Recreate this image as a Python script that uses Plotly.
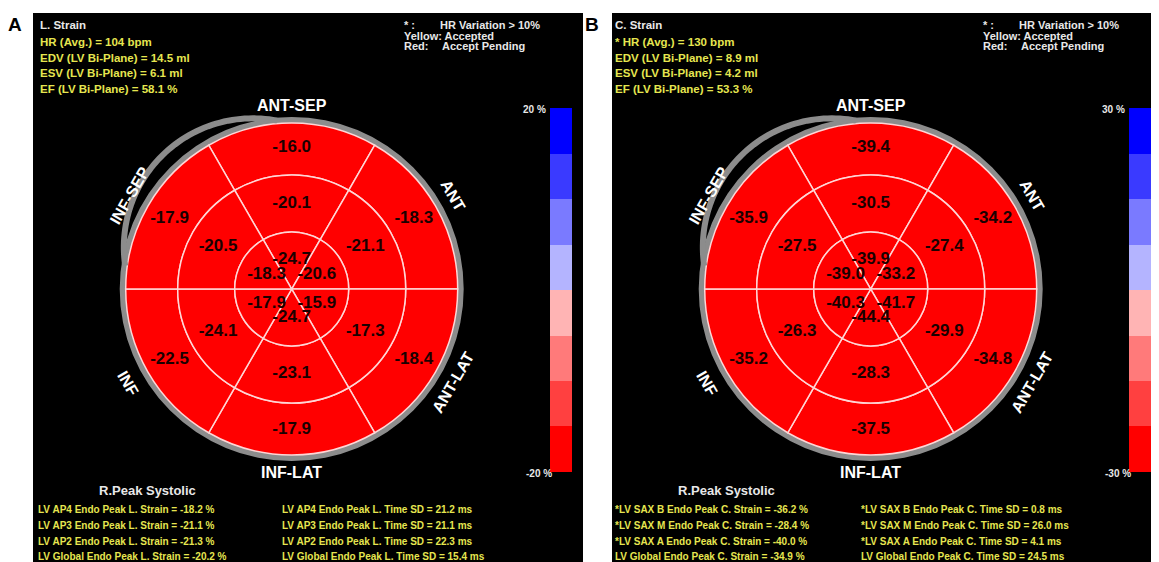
import numpy as np
import plotly.graph_objects as go

# page size and the default 8px body margin of the written html page
PAGE_W, PAGE_H = 1159, 562
OFF = 8
W, H = PAGE_W - OFF, PAGE_H - OFF

# ---------------- data ----------------
segments = ["ANT-SEP", "ANT", "ANT-LAT", "INF-LAT", "INF", "INF-SEP"]
seg_theta = [90, 30, 330, 270, 210, 150]

a_basal = [-16.0, -18.3, -18.4, -17.9, -22.5, -17.9]
a_mid = [-20.1, -21.1, -17.3, -23.1, -24.1, -20.5]
a_apical = [-24.7, -20.6, -15.9, -24.7, -17.9, -18.3]

b_basal = [-39.4, -34.2, -34.8, -37.5, -35.2, -35.9]
b_mid = [-30.5, -27.4, -29.9, -28.3, -26.3, -27.5]
b_apical = [-39.9, -33.2, -41.7, -44.4, -40.3, -39.0]

a_scale = [-20, 20]
b_scale = [-30, 30]

a_header = ["L. Strain", "HR (Avg.) = 104 bpm", "EDV (LV Bi-Plane) = 14.5 ml",
            "ESV (LV Bi-Plane) = 6.1 ml", "EF (LV Bi-Plane) = 58.1 %"]
b_header = ["C. Strain", "* HR (Avg.) = 130 bpm", "EDV (LV Bi-Plane) = 8.9 ml",
            "ESV (LV Bi-Plane) = 4.2 ml", "EF (LV Bi-Plane) = 53.3 %"]

a_left = ["LV AP4 Endo Peak L. Strain = -18.2 %", "LV AP3 Endo Peak L. Strain = -21.1 %",
          "LV AP2 Endo Peak L. Strain = -21.3 %", "LV Global Endo Peak L. Strain = -20.2 %"]
a_right = ["LV AP4 Endo Peak L. Time SD = 21.2 ms", "LV AP3 Endo Peak L. Time SD = 21.1 ms",
           "LV AP2 Endo Peak L. Time SD = 22.3 ms", "LV Global Endo Peak L. Time SD = 15.4 ms"]
b_left = ["*LV SAX B Endo Peak C. Strain = -36.2 %", "*LV SAX M Endo Peak C. Strain = -28.4 %",
          "*LV SAX A Endo Peak C. Strain = -40.0 %", "LV Global Endo Peak C. Strain = -34.9 %"]
b_right = ["*LV SAX B Endo Peak C. Time SD = 0.8 ms", "*LV SAX M Endo Peak C. Time SD = 26.0 ms",
           "*LV SAX A Endo Peak C. Time SD = 4.1 ms", "LV Global Endo Peak C. Time SD = 24.5 ms"]

bin_colors = ["#ff0000", "#ff4040", "#ff7a7a", "#ffb4b4",
              "#b4b4ff", "#7a7aff", "#3a3aff", "#0000ff"]

# ---------------- style / geometry ----------------
YEL = "#e6e650"
WHT = "#e8e8e8"
GRAY = "#8c8c8c"
FONT = "Liberation Sans"
R_IN, R_MID, R_OUT, R_RING = 57, 114, 166, 172
R_MAX = 195

colorscale = []
n = len(bin_colors)
for i, c in enumerate(bin_colors):
    colorscale.append([i / n, c])
    colorscale.append([(i + 1) / n, c])


def px(x):
    return (x - OFF) / W


def py(y):
    return 1 - (y - OFF) / H


fig = go.Figure()
annotations = []
shapes = []


def ann(x, y, text, size=11, color=YEL, xanchor="left", angle=0, bold=True):
    annotations.append(dict(
        x=px(x), y=py(y), xref="paper", yref="paper", text=text, showarrow=False,
        xanchor=xanchor, yanchor="middle", textangle=angle,
        font=dict(family=FONT, size=size, color=color, weight="bold" if bold else "normal")))


panels = [
    dict(name="polar", letter="A", dx=0, basal=a_basal, mid=a_mid, apical=a_apical,
         scale=a_scale, header=a_header, left=a_left, right=a_right),
    dict(name="polar2", letter="B", dx=579, basal=b_basal, mid=b_mid, apical=b_apical,
         scale=b_scale, header=b_header, left=b_left, right=b_right),
]

for k, p in enumerate(panels):
    dx = p["dx"]
    cx, cy = 291.7 + dx, 289
    sub = p["name"]

    # black panel
    shapes.append(dict(type="rect", xref="paper", yref="paper", x0=px(33 + dx),
                       x1=px(583) if k == 0 else 1.0,
                       y0=0, y1=py(13), fillcolor="black", line=dict(width=0), layer="below"))
    ann(15 + dx - (2 if k else 0), 25, p["letter"], size=19, color="black", xanchor="center")

    # gray outer ring
    fig.add_trace(go.Barpolar(subplot=sub, theta=[0], width=[360], base=[R_OUT], r=[R_RING - R_OUT],
                              marker=dict(color=GRAY, line=dict(width=0)), hoverinfo="skip", showlegend=False))
    # crescent outline
    th = np.linspace(95, 172, 60)
    d, Rp, phi = 57, 129, 133
    a = np.radians(th - phi)
    rr = d * np.cos(a) + np.sqrt(Rp ** 2 - (d * np.sin(a)) ** 2)
    fig.add_trace(go.Scatterpolar(subplot=sub, theta=th, r=rr, mode="lines",
                                  line=dict(color=GRAY, width=6), hoverinfo="skip", showlegend=False))

    # segments
    vals = p["basal"] + p["mid"] + p["apical"]
    thetas = seg_theta * 3
    bases = [R_MID] * 6 + [R_IN] * 6 + [0] * 6
    lens = [R_OUT - R_MID] * 6 + [R_MID - R_IN] * 6 + [R_IN] * 6
    fig.add_trace(go.Barpolar(
        subplot=sub, theta=thetas, width=[60] * 18, base=bases, r=lens,
        marker=dict(color=vals, colorscale=colorscale, cmin=p["scale"][0], cmax=p["scale"][1],
                    line=dict(color="#ffd6d6", width=1.5), showscale=True,
                    colorbar=dict(x=px(550 + dx), xanchor="left", xpad=0, y=py(290), yanchor="middle",
                                  ypad=0, len=364, lenmode="pixels", thickness=22, thicknessmode="pixels",
                                  outlinewidth=0, borderwidth=0, showticklabels=False, ticks="")),
        hoverinfo="skip", showlegend=False))

    # segment values
    fig.add_trace(go.Scatterpolar(
        subplot=sub, theta=thetas, r=[141] * 6 + [85] * 6 + [29] * 6, mode="text",
        text=[f"{v:.1f}" for v in vals],
        textfont=dict(family=FONT, size=17, color="#1a0000", weight="bold"),
        hoverinfo="skip", showlegend=False))

    # polar layout
    fig.update_layout(**{sub: dict(
        domain=dict(x=[px(cx - R_MAX), px(cx + R_MAX)], y=[py(cy + R_MAX), py(cy - R_MAX)]),
        bgcolor="rgba(0,0,0,0)",
        radialaxis=dict(range=[0, R_MAX], visible=False),
        angularaxis=dict(visible=False, rotation=0, direction="counterclockwise"),
        bargap=0)})

    # wall labels
    lab_r = [184, 186, 186, 183, 189, 187]
    lab_ang = [0, 60, -60, 0, 60, -60]
    for name, t, r, ang in zip(segments, seg_theta, lab_r, lab_ang):
        x = cx + r * np.cos(np.radians(t))
        y = cy - r * np.sin(np.radians(t))
        ann(x, y, name, size=16, color="white", xanchor="center", angle=ang)

    # colour bar end labels
    ann(548 + dx, 110, f"{p['scale'][1]} %", size=10, color=WHT, xanchor="right")
    ann(554 + dx, 473, f"{p['scale'][0]} %", size=10, color=WHT, xanchor="right")

    # header
    hx = 38 + dx - (4 if k else 0)
    for i, (txt, yy) in enumerate(zip(p["header"], [25, 42, 58, 73, 89])):
        ann(hx, yy, txt, size=11.5, color=WHT if i == 0 else YEL)

    # legend text (top right)
    ann(402 + dx, 25, "* :", size=11, color=WHT)
    ann(438 + dx, 25, "HR Variation > 10%", size=11, color=WHT)
    ann(402 + dx, 36, "Yellow: Accepted", size=11, color=WHT)
    ann(402 + dx, 46, "Red:", size=11, color=WHT)
    ann(440 + dx, 46, "Accept Pending", size=11, color=WHT)

    # bottom text
    ann(147 + dx, 490, "R.Peak Systolic", size=13, color=WHT, xanchor="center")
    lx = 36 + dx - (2 if k else 0)
    rx = 280 + dx
    for txt_l, txt_r, yy in zip(p["left"], p["right"], [509, 525, 541, 556]):
        ann(lx, yy, txt_l, size=10)
        ann(rx, yy, txt_r, size=10)

fig.update_layout(width=W, height=H, margin=dict(l=0, r=0, t=0, b=0),
                  paper_bgcolor="white", plot_bgcolor="white",
                  annotations=annotations, shapes=shapes, showlegend=False)

fig.write_html("out.html")
